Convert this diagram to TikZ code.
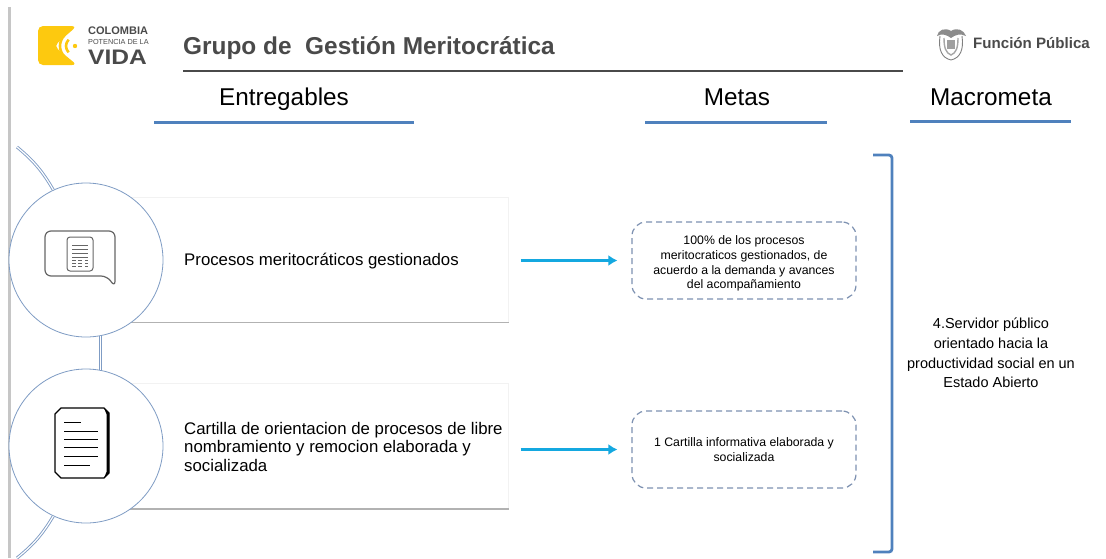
\documentclass[tikz,border=0pt]{standalone}
\usepackage{fontspec}
\setmainfont{Liberation Sans}
\usetikzlibrary{arrows.meta}
\definecolor{barblue}{HTML}{4F81BD}
\definecolor{ringblue}{HTML}{7F9CC4}
\definecolor{dashblue}{HTML}{7C90B0}
\definecolor{arrowcyan}{HTML}{14A8E0}
\definecolor{logoyellow}{HTML}{FDC90F}
\definecolor{titlegray}{HTML}{4A4A4A}
\begin{document}
\begin{tikzpicture}
[x=1pt,y=-1pt,%%%%%%%%%%%%%%%%%%%%%%%%%%%%%%
head/.style={font=\fontsize{24.3}{28}\selectfont,text=black,anchor=base,inner sep=0pt},
headbar/.style={draw=barblue,line width=3pt},
card/.style={rectangle,fill=white,draw=gray!10,line width=1pt,minimum width=378pt,minimum height=125pt,inner sep=0pt},
cardedge/.style={draw=gray!60,line width=1.6pt},
cardtext/.style={font=\fontsize{16.8}{18.5}\selectfont,align=left,anchor=west,inner sep=0pt},
ring/.style={circle,draw=ringblue,fill=white,line width=.8pt,minimum size=154pt,inner sep=0pt},
link/.style={draw=ringblue,double=white,double distance=1.2pt,line width=.9pt},
meta/.style={rectangle,rounded corners=14pt,draw=dashblue,dashed,line width=1.2pt,dash pattern=on 6pt off 4pt,minimum width=224pt,minimum height=77pt,align=center,font=\fontsize{12.3}{14.7}\selectfont},
flow/.style={draw=arrowcyan,line width=2.8pt,-{Latex[length=9pt,width=11pt]}},
]%%%%%%%%%%%%%%%%%%%%%%%%%%%%%%
\useasboundingbox (0,0) rectangle (1106,558);
\fill[gray!45] (8,7) rectangle (10.5,558);

\fill[logoyellow,rounded corners=5pt] (38,26) -- (77,26) -- (54,46) -- (77,65) -- (38,65) -- cycle;
\foreach \r in {9,15}
\draw[logoyellow,line width=2.6pt] (75,46)+(135:\r) arc (135:225:\r);
\fill[logoyellow] (75,46) circle (2.2pt);
\node[inner sep=0pt,anchor=west,font=\fontsize{11}{12}\bfseries\selectfont,text=titlegray] (logoa) at (88,31){COLOMBIA};
\node[inner sep=0pt,anchor=west,font=\fontsize{7.3}{9}\selectfont,text=titlegray] (logob) at (88,42){POTENCIA DE LA};
\node[inner sep=0pt,anchor=west,font=\fontsize{21}{22}\bfseries\selectfont,text=titlegray] (logoc) at (88,57.5){\scalebox{1.17}[1]{VIDA}};

\node[inner sep=0pt,anchor=west,font=\fontsize{24.4}{28}\bfseries\selectfont,text=titlegray] (title) at (183,48){Grupo de\ \ Gestión Meritocrática};
\coordinate (ruleleft) at (183,71);
\coordinate (ruleright) at (903,71);
\draw[titlegray,line width=1.2pt] (ruleleft) -- (ruleright);

\draw[gray,line width=.9pt,fill=white] (940,36) .. controls (938,50) and (942,58) .. (951,60) .. controls (960,58) and (964,50) .. (962,36);
\fill[gray!90] (937,36) .. controls (938,30) and (945,27) .. (951,31) .. controls (957,27) and (964,30) .. (966,36) .. controls (960,33) and (955,35) .. (951,38) .. controls (947,35) and (942,33) .. (937,36) -- cycle;
\draw[gray!70,line width=1.4pt] (944,38) .. controls (944,48) and (946,53) .. (951,55) .. controls (956,53) and (958,48) .. (958,38);
\fill[gray!75] (947,40) rectangle (955,49);
\node[inner sep=0pt,anchor=west,font=\fontsize{15.1}{17}\bfseries\selectfont,text=titlegray] (funcion) at (973,43){Función Pública};

\node[head] (entregables) at (284,105){Entregables};
\node[head] (metas) at (737,105.5){Metas};
\node[head] (macrometa) at (991,105){Macrometa};
\draw[headbar] (154,122) -- (414,122);
\draw[headbar] (645,122) -- (827,122);
\draw[headbar] (910,121) -- (1071,121);

\coordinate (arctop) at (17,147);
\coordinate (arcbot) at (17,558);
\node[card] (card1) at (319,259.5){};
\node[card] (card2) at (319,446){};
\draw[cardedge] (card1.south west) -- (card1.south east);
\draw[cardedge] (card2.south west) -- (card2.south east);
\node[ring] (ring1) at (86,260){};
\node[ring] (ring2) at (86,446){};
\path[link] (arctop) to[bend left=10] (ring1.115);
\path[link] (ring1.-79) -- (ring2.79);
\path[link] (ring2.-115) to[bend left=10] (arcbot);

\draw[gray!80!black,line width=1.2pt,rounded corners=6pt] (52,231) -- (115,231) -- (115,287) -- (107,276) -- (45,276) -- (45,231) -- (52,231);
\draw[gray!80!black,line width=1pt,rounded corners=3pt] (67,237) rectangle (93,271);
\foreach \y in {245,249,253,257}
\draw[gray!80!black,line width=.8pt] (72,\y) -- (88,\y);
\foreach \y in {260,263,266}
\draw[gray!80!black,line width=.8pt] (72,\y) -- (76,\y) (78,\y) -- (82,\y) (85,\y) -- (88,\y);

\draw[black,line width=1.1pt] (61,408) -- (104,408) -- (109,413) -- (109,473) -- (104,478) -- (61,478) -- (55,472) -- (55,414) -- cycle;
\fill[black] (104,408) -- (109,413) -- (109,473) -- (104,478) -- (106.5,472) -- (106.5,414) -- cycle;
\draw[black,line width=1pt] (64,422) -- (81,422);
\foreach \y in {431,439,447,456}
\draw[black,line width=1pt] (64,\y) -- (98,\y);
\draw[black,line width=1pt] (64,465) -- (90,465);

\node[cardtext] (text1) at (184,261){Procesos meritocráticos gestionados};
\node[cardtext] (text2) at (184,446.5){Cartilla de orientacion de procesos de libre\\nombramiento y remocion elaborada y\\socializada};

\node[meta] (meta1) at (744,260.5){\rule{0pt}{15pt}100\% de los procesos\\meritocraticos gestionados, de\\acuerdo a la demanda y avances\\del acompañamiento};
\node[meta] (meta2) at (744,449.5){1 Cartilla informativa elaborada y\\socializada};
\draw[flow,shorten <=12pt,shorten >=14pt] (card1.east |- meta1.west) -- (meta1.west);
\draw[flow,shorten <=12pt,shorten >=14pt] (card2.east |- meta2.west) -- (meta2.west);

\draw[barblue,line width=2.8pt,rounded corners=3pt] (873,155) -- (892,155) -- (892,552) -- (873,552);
\node[align=center,font=\fontsize{14.5}{19.8}\selectfont] (macrotext) at (991,353){4.Servidor público\\orientado hacia la\\productividad social en un\\Estado Abierto};
\end{tikzpicture}
\end{document}
